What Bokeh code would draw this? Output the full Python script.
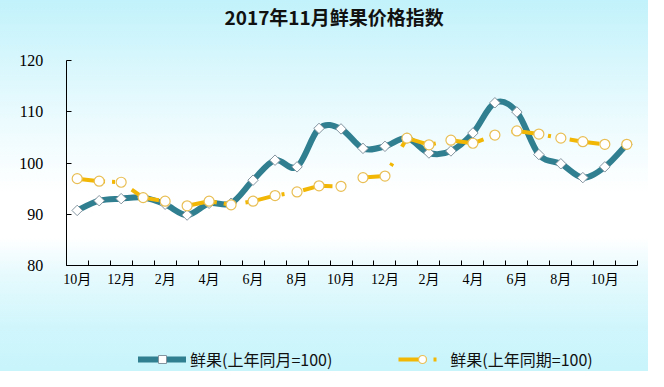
import math
from bokeh.plotting import figure
from bokeh.models import Range1d, FixedTicker, Legend, LegendItem, ColumnDataSource
from bokeh.embed import file_html
from bokeh.resources import INLINE

title_text = "2017年11月鲜果价格指数"
months = ["2015-10", "2015-11", "2015-12", "2016-01", "2016-02", "2016-03",
          "2016-04", "2016-05", "2016-06", "2016-07", "2016-08", "2016-09",
          "2016-10", "2016-11", "2016-12", "2017-01", "2017-02", "2017-03",
          "2017-04", "2017-05", "2017-06", "2017-07", "2017-08", "2017-09",
          "2017-10", "2017-11"]
# 鲜果(上年同月=100)
yoy = [90.8, 92.7, 93.1, 93.3, 92.0, 89.9, 92.2, 92.2, 96.7, 100.6, 99.3, 106.8,
       106.7, 102.9, 103.3, 104.9, 102.0, 102.4, 105.9, 111.8, 110.0, 101.7,
       99.9, 97.2, 99.3, 103.7]
# 鲜果(上年同期=100)
ytd = [97.0, 96.5, 96.3, 93.3, 92.6, 91.7, 92.6, 91.9, 92.6, 93.7, 94.4, 95.6,
       95.5, 97.2, 97.5, 104.9, 103.6, 104.5, 103.9, 105.5, 106.3, 105.7,
       104.9, 104.2, 103.7, 103.7]
tick_labels = ["10月", "12月", "2月", "4月", "6月", "8月", "10月", "12月",
               "2月", "4月", "6月", "8月", "10月"]
y_ticks = [80, 90, 100, 110, 120]
series_names = ["鲜果(上年同月=100)", "鲜果(上年同期=100)"]

n = len(months)
xs = [i + 0.5 for i in range(n)]

# smooth curve (Catmull-Rom -> cubic Bezier control points)
bz = dict(x0=[], y0=[], x1=[], y1=[], cx0=[], cy0=[], cx1=[], cy1=[])
for i in range(n - 1):
    a = i - 1 if i > 0 else i
    d = i + 2 if i + 2 < n else i + 1
    bz["x0"].append(xs[i]); bz["y0"].append(yoy[i])
    bz["x1"].append(xs[i + 1]); bz["y1"].append(yoy[i + 1])
    bz["cx0"].append(xs[i] + (xs[i + 1] - xs[a]) / 6)
    bz["cy0"].append(yoy[i] + (yoy[i + 1] - yoy[a]) / 6)
    bz["cx1"].append(xs[i + 1] - (xs[d] - xs[i]) / 6)
    bz["cy1"].append(yoy[i + 1] - (yoy[d] - yoy[i]) / 6)

src = ColumnDataSource(dict(x=xs, yoy=yoy, ytd=ytd, month=months))

# layout: the frame fills the figure below the title; both axes are fixed
# inside it (value axis bounded to 80..120, category axis at y=80)
W, H = 648, 371
top_border = 28
px_120, px_80 = 59.3, 265.0
px_left, px_right = 65.7, 637.3
ky = (px_80 - px_120) / (y_ticks[-1] - y_ticks[0])
y_max = y_ticks[-1] + (px_120 - top_border) / ky
y_min = y_ticks[0] - (H - px_80) / ky
kx = (px_right - px_left) / n
x_min = -px_left / kx
x_max = n + (W - px_right) / kx

p = figure(width=W, height=H, x_range=Range1d(x_min, x_max),
           y_range=Range1d(y_min, y_max),
           output_backend="svg", toolbar_location=None,
           min_border_left=0, min_border_right=0,
           min_border_top=top_border, min_border_bottom=0)
p.border_fill_alpha = 0
p.background_fill_alpha = 0
p.outline_line_color = None
p.styles = {"background-image": "linear-gradient(to bottom, #c2f2fb 0%, #ecfbfe 33%, #ffffff 52%, #ffffff 64%, #e6fafd 74%, #d0f6fc 88%, #c8f4fb 100%)"}
p.xgrid.visible = False
p.ygrid.visible = False

p.title.text = title_text
p.title.align = "left"
p.title.offset = 224
p.title.standoff = 0
p.title.text_font = "Noto Sans CJK SC"
p.title.text_font_size = "19px"
p.title.text_font_style = "bold"
p.title.text_color = "#111111"

blue = "#2f7f90"
yellow = "#f2b705"

r_b = p.bezier(x0="x0", y0="y0", x1="x1", y1="y1", cx0="cx0", cy0="cy0",
               cx1="cx1", cy1="cy1", source=ColumnDataSource(bz),
               line_color=blue, line_width=6, line_cap="round")
r_bm = p.scatter("x", "yoy", source=src, marker="square", size=7.4,
                 angle=math.pi / 4, fill_color="white", line_color="#8595a0",
                 line_width=1)
r_y = p.line("x", "ytd", source=src, line_color=yellow, line_width=4,
             line_dash="30 7 3 19", line_dash_offset=2)
r_ym = p.scatter("x", "ytd", source=src, marker="circle", size=10,
                 fill_color="white", line_color="#e9bf55", line_width=1.2)

xa = p.xaxis[0]
xa.fixed_location = y_ticks[0]
xa.bounds = (0, n)
xa.ticker = FixedTicker(ticks=[i + 0.5 for i in range(0, n, 2)],
                        minor_ticks=list(range(0, n + 1)))
xa.major_label_overrides = {i + 0.5: lab for i, lab in zip(range(0, n, 2), tick_labels)}
xa.major_tick_line_color = None
xa.major_tick_in = 0
xa.major_tick_out = 0
xa.minor_tick_in = 5
xa.minor_tick_out = 0
xa.minor_tick_line_color = "black"
xa.axis_line_color = "black"
xa.major_label_standoff = 6
xa.major_label_text_font = "'Liberation Serif', 'Noto Sans CJK SC'"
xa.major_label_text_font_size = "14px"
xa.major_label_text_color = "black"

ya = p.yaxis[0]
ya.fixed_location = 0
ya.bounds = (y_ticks[0], y_ticks[-1])
ya.ticker = FixedTicker(ticks=y_ticks)
ya.major_tick_in = 5
ya.major_tick_out = 0
ya.minor_tick_line_color = None
ya.axis_line_color = "black"
ya.major_tick_line_color = "black"
ya.major_label_standoff = 23
ya.major_label_text_font = "Liberation Serif"
ya.major_label_text_font_size = "16px"
ya.major_label_text_color = "black"

legend = Legend(items=[LegendItem(label=series_names[0], renderers=[r_b, r_bm]),
                       LegendItem(label=series_names[1], renderers=[r_y, r_ym])],
                location=(138, 0), orientation="horizontal",
                glyph_width=48, glyph_height=20, label_height=20,
                label_standoff=4, spacing=66, padding=0, margin=0,
                background_fill_alpha=0, border_line_alpha=0,
                label_text_font="Noto Sans CJK SC", label_text_font_size="16px",
                label_text_color="#111111")
p.add_layout(legend)

open("out.html", "w").write(file_html(p, INLINE))
